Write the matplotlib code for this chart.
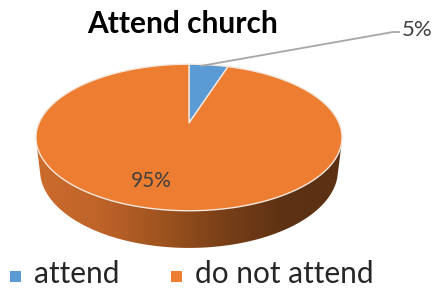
import numpy as np
import matplotlib
matplotlib.use("Agg")
import matplotlib.pyplot as plt
from matplotlib.patches import Polygon, Rectangle
from matplotlib.colors import LinearSegmentedColormap

plt.rcParams['font.family'] = ['Lato', 'DejaVu Sans']

labels = ['attend', 'do not attend']
values = [5, 95]
colors = ['#5B9BD5', '#ED7D31']
title = 'Attend church'

# projection set-up (pixel space)
cx, cy, k = 189, 123, 150
alpha = np.radians(28)
sa, ca = np.sin(alpha), np.cos(alpha)
D = 4.47
h = 0.25


def proj(X, Y, Z):
    u = Y * sa + Z * ca
    w = Y * ca - Z * sa
    f = D / (D + w)
    return cx + k * X * f, cy - k * u * f


def ring(phi, z):
    return proj(np.sin(phi), np.cos(phi), z)


def hull(pts):
    pts = sorted(map(tuple, pts))
    def cross(o, a, b):
        return (a[0] - o[0]) * (b[1] - o[1]) - (a[1] - o[1]) * (b[0] - o[0])
    lower, upper = [], []
    for p in pts:
        while len(lower) >= 2 and cross(lower[-2], lower[-1], p) <= 0:
            lower.pop()
        lower.append(p)
    for p in reversed(pts):
        while len(upper) >= 2 and cross(upper[-2], upper[-1], p) <= 0:
            upper.pop()
        upper.append(p)
    return np.array(lower[:-1] + upper[:-1])


fig = plt.figure(figsize=(4.38, 2.89), dpi=100)
ax = fig.add_axes([0, 0, 1, 1])
ax.set_xlim(0, 438)
ax.set_ylim(289, 0)
ax.axis('off')

total = float(sum(values))
bounds = np.concatenate([[0], np.cumsum(values) / total * 2 * np.pi])

# side wall: gradient clipped to the solid's silhouette
phis = np.linspace(0, 2 * np.pi, 361)
xt, yt = ring(phis, 0)
xb, yb = ring(phis, -h)
sil = hull(np.column_stack([np.r_[xt, xb], np.r_[yt, yb]]))
clip = Polygon(sil, closed=True, facecolor='none', edgecolor='none')
ax.add_patch(clip)
side_cmap = LinearSegmentedColormap.from_list(
    'side', ['#CC6C2C', '#C0642A', '#A0541F', '#7A4018', '#5E3214', '#5B3013'])
grad = np.linspace(0, 1, 256).reshape(1, -1)
img = ax.imshow(grad, cmap=side_cmap, extent=[35, 345, 260, 60],
                aspect='auto', interpolation='bilinear', zorder=1)
img.set_clip_path(clip)

# top face slices
x0, y0 = proj(0, 0, 0)
for i in range(len(values)):
    ph = np.linspace(bounds[i], bounds[i + 1], 200)
    xs, ys = ring(ph, 0)
    pts = np.column_stack([np.r_[x0, xs], np.r_[y0, ys]])
    ax.add_patch(Polygon(pts, closed=True, facecolor=colors[i], zorder=2,
                         edgecolor='#F4E8DE', lw=1.0, joinstyle='round'))

# data labels
pct = [f'{round(v / total * 100)}%' for v in values]
lx, ly = ring((bounds[0] + bounds[1]) / 2, 0)
ax.plot([lx - 7, 393, 399], [ly + 1, 32, 32], color='#A6A6A6', lw=1.3, zorder=3)
ax.text(402, 30, pct[0], fontsize=16, color='#404040', ha='left', va='center')
ax.text(151, 181, pct[1], fontsize=15, color='#404040', ha='center', va='center')

ax.text(183, 24, title, fontsize=21.5, fontweight='bold', color='black',
        ha='center', va='center')

# legend
leg_x = [10, 171]
for i, lab in enumerate(labels):
    ax.add_patch(Rectangle((leg_x[i], 271), 11, 11, facecolor=colors[i], edgecolor='none'))
    ax.text(leg_x[i] + 24, 283, lab, fontsize=21.5, color='#262626', ha='left', va='baseline')

fig.savefig('out.png', dpi=100)
